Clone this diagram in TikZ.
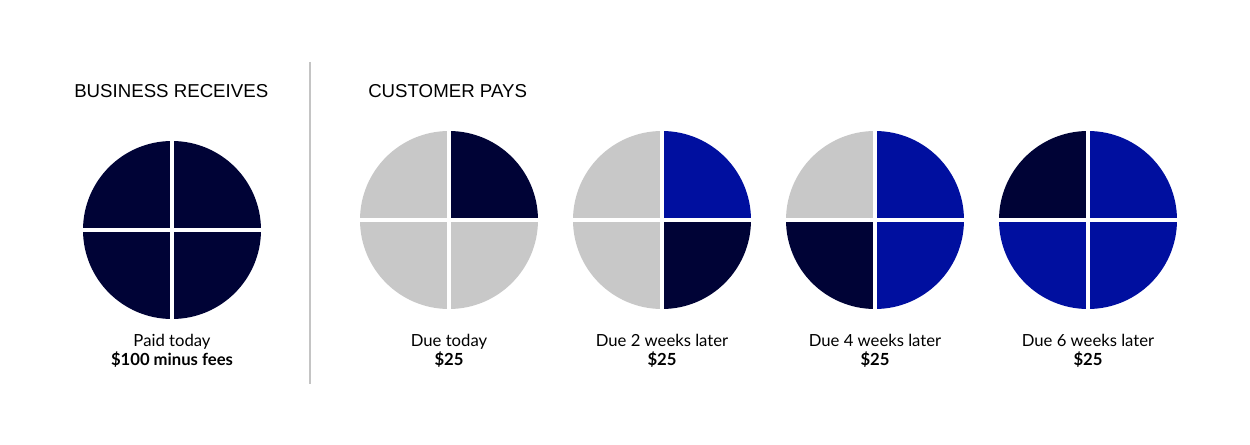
\documentclass[tikz,border=0pt]{standalone}
\usepackage{fontspec}
\setmainfont{Liberation Sans}
\newfontfamily\labelfont{Lato}
\usetikzlibrary{positioning}
\definecolor{navy}{HTML}{000336}
\definecolor{payblue}{HTML}{000F9F}
\definecolor{paygray}{HTML}{C8C8C8}
\definecolor{divider}{HTML}{C4C4C4}
\tikzstyle{heading} = [anchor=base west, inner sep=0pt, font=\fontsize{14pt}{17pt}\selectfont]
\tikzstyle{duetext} = [anchor=base, inner sep=0pt, font=\labelfont\fontsize{12.5pt}{15pt}\selectfont]
\tikzstyle{amount} = [duetext, font=\labelfont\bfseries\fontsize{12.5pt}{15pt}\selectfont]
\tikzstyle{gap} = [white, line width=2.3pt]

\begin{document}
\begin{tikzpicture}[x=0.75pt, y=-0.75pt]
  \useasboundingbox (0,0) rectangle (1250,445);

  % headings and divider
  \node[heading] (business) at (74,98) {BUSINESS RECEIVES};
  \node[heading] (customer) at (368,98) {CUSTOMER PAYS};
  \coordinate (divtop) at (310,62);
  \coordinate (divbot) at (310,384);
  \draw[divider, line width=1pt] (divtop) -- (divbot);

  % pies: centre x / centre y / top left / top right / bottom left / bottom right
  \foreach \cx/\cy/\tl/\tr/\bl/\br [count=\i] in {
      172/230/navy/navy/navy/navy,
      449/220/paygray/navy/paygray/paygray,
      662/220/paygray/payblue/paygray/navy,
      875/220/paygray/payblue/navy/payblue,
      1088/220/navy/payblue/payblue/payblue}
  {
    \coordinate (pie\i) at (\cx,\cy);
    \fill[\tr] (pie\i) -- ++(89,0) arc[start angle=0, end angle=-90, radius=89] -- cycle;
    \fill[\tl] (pie\i) -- ++(0,-89) arc[start angle=-90, end angle=-180, radius=89] -- cycle;
    \fill[\bl] (pie\i) -- ++(-89,0) arc[start angle=180, end angle=90, radius=89] -- cycle;
    \fill[\br] (pie\i) -- ++(0,89) arc[start angle=90, end angle=0, radius=89] -- cycle;
    \draw[gap] ([xshift=-90]pie\i) -- ([xshift=90]pie\i);
    \draw[gap] ([yshift=-90]pie\i) -- ([yshift=90]pie\i);
  }

  % labels
  \node[duetext] (paid) at (172,347) {Paid today};
  \node[amount] (paidamt) at (172,366) {\$100 minus fees};
  \node[duetext] (due1) at (449,347) {Due today};
  \node[amount] (amt1) at (449,366) {\$25};
  \node[duetext] (due2) at (662,347) {Due 2 weeks later};
  \node[amount] (amt2) at (662,366) {\$25};
  \node[duetext] (due3) at (875,347) {Due 4 weeks later};
  \node[amount] (amt3) at (875,366) {\$25};
  \node[duetext] (due4) at (1088,347) {Due 6 weeks later};
  \node[amount] (amt4) at (1088,366) {\$25};
\end{tikzpicture}
\end{document}
